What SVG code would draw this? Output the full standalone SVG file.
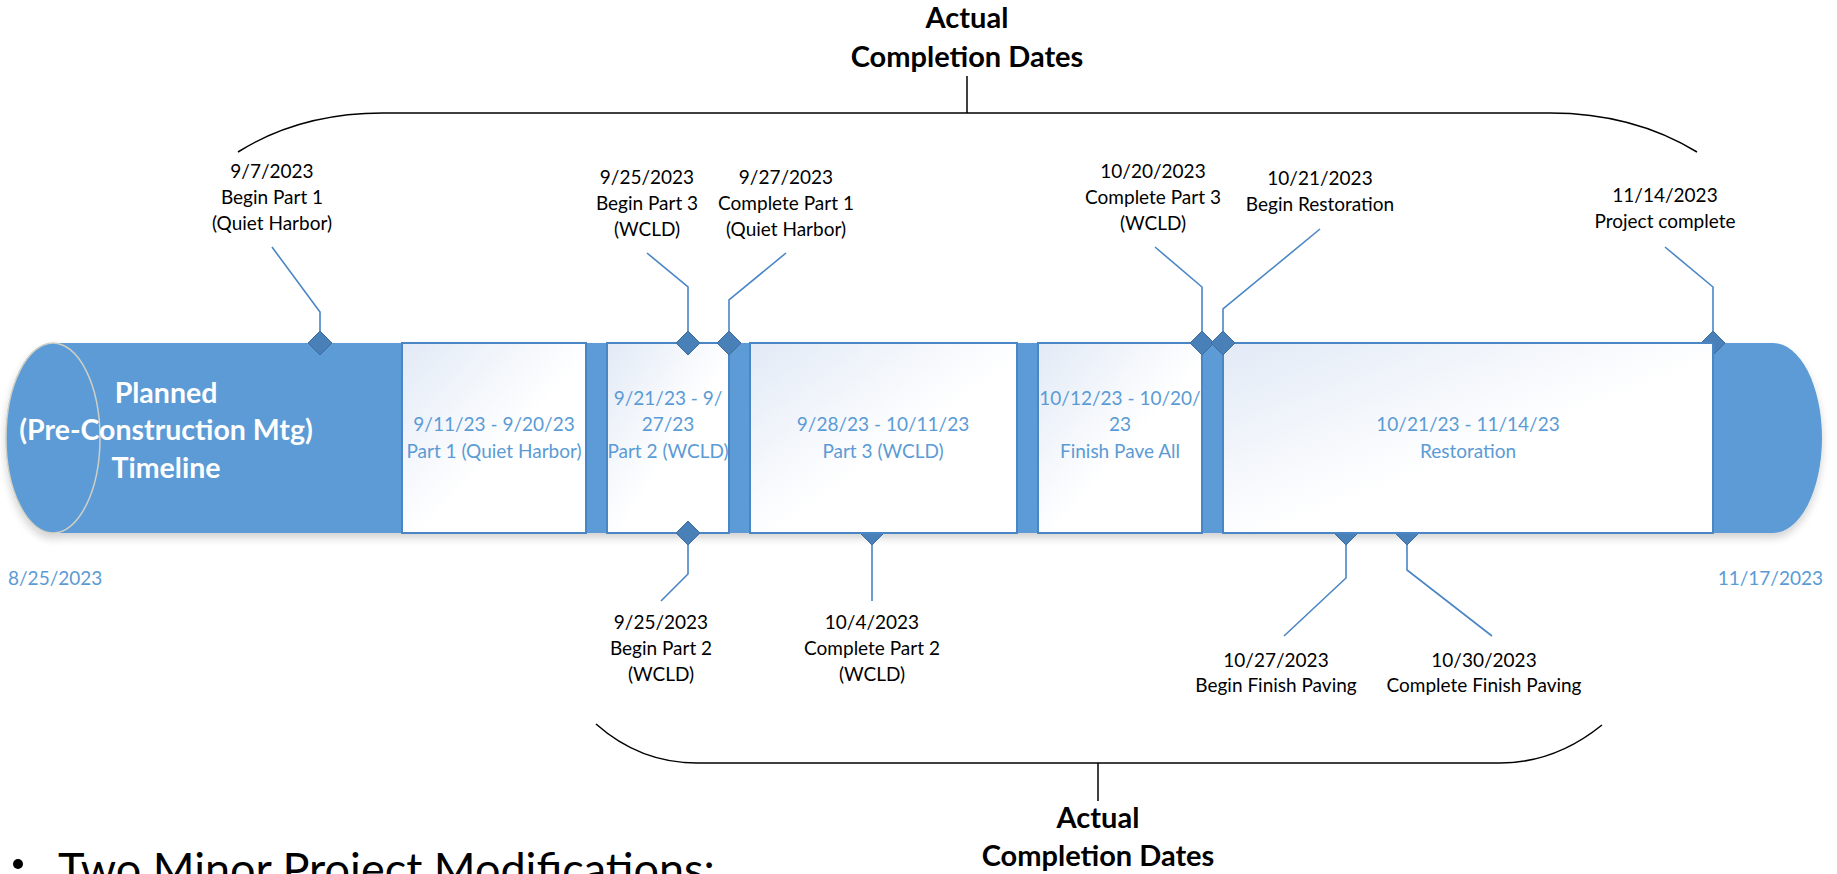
<svg xmlns="http://www.w3.org/2000/svg" width="1837" height="874" viewBox="0 0 1837 874">
<defs>
<linearGradient id="boxg" x1="0" y1="0" x2="1" y2="1">
<stop offset="0" stop-color="#e2eaf6"/>
<stop offset="0.55" stop-color="#ffffff"/>
<stop offset="1" stop-color="#ffffff"/>
</linearGradient>
<filter id="sh" x="-5%" y="-5%" width="110%" height="130%">
<feGaussianBlur in="SourceAlpha" stdDeviation="4"/>
<feOffset dy="5"/>
<feComponentTransfer><feFuncA type="linear" slope="0.18"/></feComponentTransfer>
<feMerge><feMergeNode/><feMergeNode in="SourceGraphic"/></feMerge>
</filter>
</defs>
<style>
.lbl{font-family:Lato,"Liberation Sans",sans-serif;font-size:19px;fill:#000;text-anchor:middle}
.btxt{font-family:Lato,"Liberation Sans",sans-serif;font-size:19px;fill:#5b9bd5;text-anchor:middle}
.ttl{font-family:Lato,"Liberation Sans",sans-serif;font-size:28.5px;font-weight:bold;fill:#fff;text-anchor:middle}
.hdr{font-family:Lato,"Liberation Sans",sans-serif;font-size:29px;font-weight:bold;fill:#000;text-anchor:middle}
.box{fill:url(#boxg);stroke:#4a86c5;stroke-width:2}
.dia{fill:#4a80b8;stroke:#3d6d9e;stroke-width:1}
.lead{fill:none;stroke:#4a86c5;stroke-width:1.6}
.brace{fill:none;stroke:#000;stroke-width:1.5}
.date{font-family:Lato,"Liberation Sans",sans-serif;font-size:19px;fill:#5b9bd5}
</style>

<g id="timeline-bar" filter="url(#sh)">
<path d="M53,343 H1773 A49,95 0 0 1 1773,533 H53 Z" fill="#5b9bd5"/>
<ellipse cx="53" cy="438" rx="47" ry="95" fill="#5b9bd5" stroke="#cfcfc6" stroke-width="1.5"/>
</g>
<g id="title">
<text class="ttl" x="166" y="403">Planned</text>
<text class="ttl" x="166" y="440">(Pre-Construction Mtg)</text>
<text class="ttl" x="166" y="478">Timeline</text>
</g>

<g id="connectors">
<path class="lead" d="M272,247 L320,312 V331"/>
<path class="lead" d="M647,253 L688,287 V331"/>
<path class="lead" d="M786,253 L729,300 V331"/>
<path class="lead" d="M1155,247 L1202,287 V331"/>
<path class="lead" d="M1320,229 L1223,309 V331"/>
<path class="lead" d="M1665,247 L1713,287 V331"/>
<path class="lead" d="M688,545 V574 L661,601"/>
<path class="lead" d="M872,545 V601"/>
<path class="lead" d="M1346,545 V578 L1284,636"/>
<path class="lead" d="M1407,545 V570 L1492,636"/>
<path class="brace" d="M238,152 Q300,113 383,113 H1550 Q1633,113 1697,152"/>
<path class="brace" d="M967,113 V76"/>
<path class="brace" d="M596,724 Q640,763 697,763 H1500 Q1555,763 1602,725"/>
<path class="brace" d="M1098,763 V801"/>
</g>

<g id="milestones-behind">
<path class="dia" d="M872,521 L884,533 L872,545 L860,533 Z"/>
<path class="dia" d="M1346,521 L1358,533 L1346,545 L1334,533 Z"/>
<path class="dia" d="M1407,521 L1419,533 L1407,545 L1395,533 Z"/>
<path class="dia" d="M1713,331 L1725,343 L1713,355 L1701,343 Z"/>
</g>

<g id="box1"><rect class="box" x="402" y="343" width="184" height="190"/>
<text class="btxt" x="494" y="431">9/11/23 - 9/20/23</text>
<text class="btxt" x="494" y="458">Part 1 (Quiet Harbor)</text></g>
<g id="box2"><rect class="box" x="607" y="343" width="122" height="190"/>
<text class="btxt" x="668" y="405">9/21/23 - 9/</text>
<text class="btxt" x="668" y="431">27/23</text>
<text class="btxt" x="668" y="458">Part 2 (WCLD)</text></g>
<g id="box3"><rect class="box" x="750" y="343" width="267" height="190"/>
<text class="btxt" x="883" y="431">9/28/23 - 10/11/23</text>
<text class="btxt" x="883" y="458">Part 3 (WCLD)</text></g>
<g id="box4"><rect class="box" x="1038" y="343" width="164" height="190"/>
<text class="btxt" x="1120" y="405">10/12/23 - 10/20/</text>
<text class="btxt" x="1120" y="431">23</text>
<text class="btxt" x="1120" y="458">Finish Pave All</text></g>
<g id="box5"><rect class="box" x="1223" y="343" width="490" height="190"/>
<text class="btxt" x="1468" y="431">10/21/23 - 11/14/23</text>
<text class="btxt" x="1468" y="458">Restoration</text></g>

<g id="m-0907"><path class="dia" d="M320,331 L332,343 L320,355 L308,343 Z"/>
<text class="lbl" x="272" y="178">9/7/2023</text><text class="lbl" x="272" y="204">Begin Part 1</text><text class="lbl" x="272" y="230">(Quiet Harbor)</text></g>
<g id="m-0925a"><path class="dia" d="M688,331 L700,343 L688,355 L676,343 Z"/>
<text class="lbl" x="647" y="184">9/25/2023</text><text class="lbl" x="647" y="210">Begin Part 3</text><text class="lbl" x="647" y="236">(WCLD)</text></g>
<g id="m-0927"><path class="dia" d="M729,331 L741,343 L729,355 L717,343 Z"/>
<text class="lbl" x="786" y="184">9/27/2023</text><text class="lbl" x="786" y="210">Complete Part 1</text><text class="lbl" x="786" y="236">(Quiet Harbor)</text></g>
<g id="m-1020"><path class="dia" d="M1202,331 L1214,343 L1202,355 L1190,343 Z"/>
<text class="lbl" x="1153" y="178">10/20/2023</text><text class="lbl" x="1153" y="204">Complete Part 3</text><text class="lbl" x="1153" y="230">(WCLD)</text></g>
<g id="m-1021"><path class="dia" d="M1223,331 L1235,343 L1223,355 L1211,343 Z"/>
<text class="lbl" x="1320" y="185">10/21/2023</text><text class="lbl" x="1320" y="211">Begin Restoration</text></g>
<g id="m-1114"><text class="lbl" x="1665" y="202">11/14/2023</text><text class="lbl" x="1665" y="228">Project complete</text></g>
<g id="m-0925b"><path class="dia" d="M688,521 L700,533 L688,545 L676,533 Z"/>
<text class="lbl" x="661" y="629">9/25/2023</text><text class="lbl" x="661" y="655">Begin Part 2</text><text class="lbl" x="661" y="681">(WCLD)</text></g>
<g id="m-1004"><text class="lbl" x="872" y="629">10/4/2023</text><text class="lbl" x="872" y="655">Complete Part 2</text><text class="lbl" x="872" y="681">(WCLD)</text></g>
<g id="m-1027"><text class="lbl" x="1276" y="667">10/27/2023</text><text class="lbl" x="1276" y="692">Begin Finish Paving</text></g>
<g id="m-1030"><text class="lbl" x="1484" y="667">10/30/2023</text><text class="lbl" x="1484" y="692">Complete Finish Paving</text></g>

<g id="dates">
<text class="date" x="8" y="585">8/25/2023</text>
<text class="date" x="1823" y="585" text-anchor="end">11/17/2023</text>
</g>
<g id="header-top"><text class="hdr" x="967" y="28">Actual</text><text class="hdr" x="967" y="67">Completion Dates</text></g>
<g id="header-bottom"><text class="hdr" x="1098" y="828">Actual</text><text class="hdr" x="1098" y="866">Completion Dates</text></g>
<g id="bullet">
<circle cx="18" cy="864" r="5" fill="#000"/>
<text x="58" y="885" font-family="Lato,'Liberation Sans',sans-serif" font-size="45" fill="#000">Two Minor Project Modifications:</text>
</g>
</svg>
